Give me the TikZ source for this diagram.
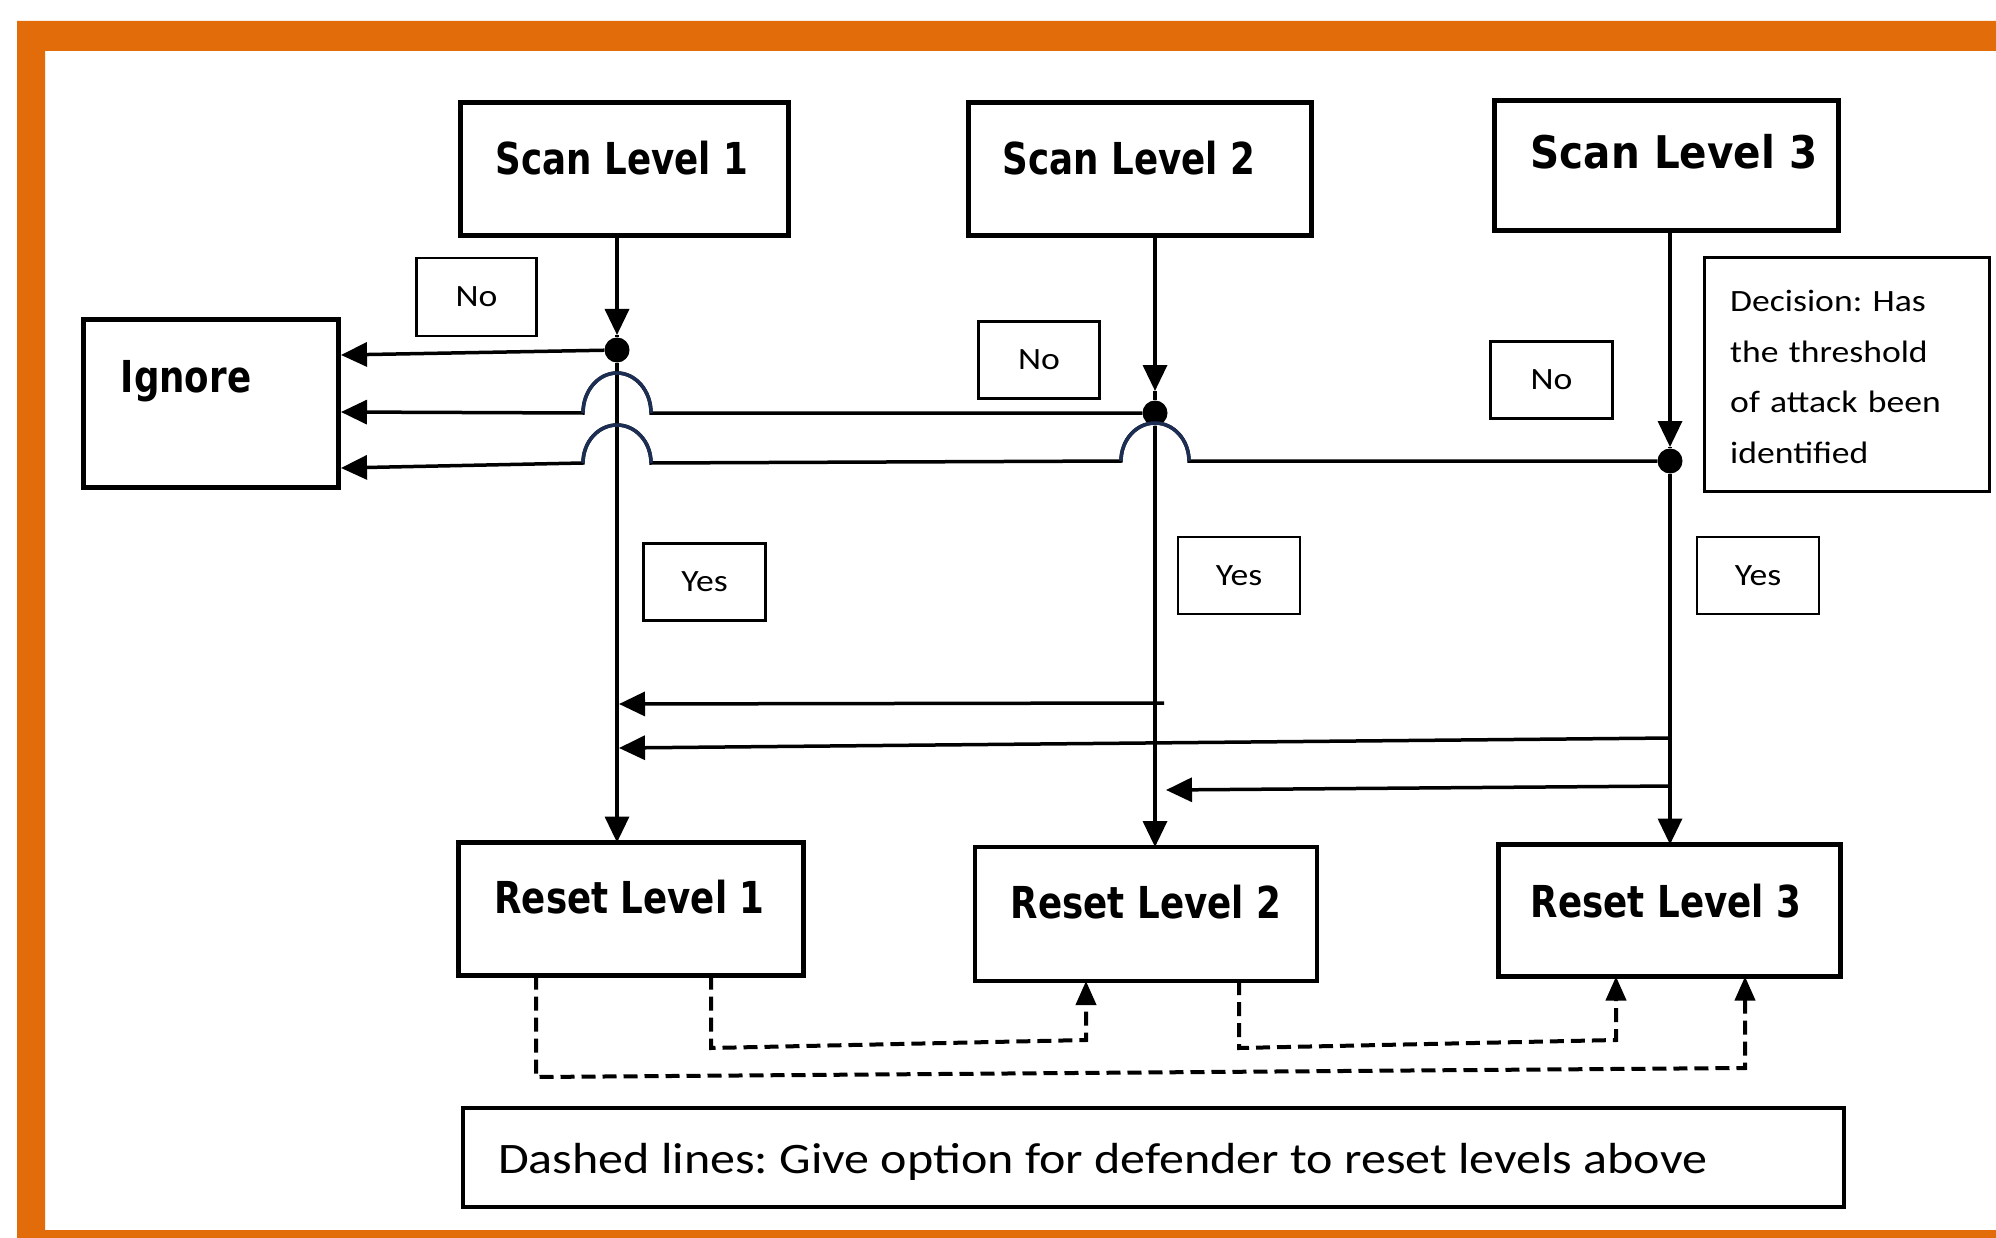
\documentclass[tikz,border=0pt]{standalone}
\usepackage{fontspec}
\setmainfont{Carlito}
\newfontfamily\titlefont[FakeStretch=0.81]{DejaVu Sans}
\newfontfamily\titlewidefont[FakeStretch=0.9]{DejaVu Sans}
\newfontfamily\labfont[FakeStretch=1.15]{Carlito}
\usetikzlibrary{arrows.meta,calc}
\definecolor{frameorange}{HTML}{E36C0A}
\definecolor{jumpblue}{HTML}{1C2E54}
\frenchspacing
\begin{document}
\begin{tikzpicture}[x=1pt,y=-1pt,
  box/.style={draw, line width=4.5pt, inner sep=0pt, outer sep=0pt},
  lab/.style={draw, line width=2.5pt, inner sep=0pt, outer sep=0pt, font=\labfont\fontsize{31}{36}\selectfont, text depth=-3pt},
  ttl/.style={font=\titlefont\bfseries\fontsize{44}{50}\selectfont, inner sep=0pt, anchor=base},
  conn/.style={line width=3.5pt},
  arr/.style={conn, -{Triangle[length=26pt,width=24pt]}},
  dot/.style={circle, fill, inner sep=0pt, minimum size=25pt},
  dsh/.style={line width=4pt, dash pattern=on 14pt off 7pt, -{Triangle[length=24pt,width=20pt]}},
]
\useasboundingbox (0,0) rectangle (1996,1238);
\fill[white] (0,0) rectangle (1996,1238);
\fill[frameorange, even odd rule] (17,21) rectangle (1996,1238) (45,51) rectangle (1996,1230);

% main boxes
\node[box, minimum width=328pt, minimum height=133pt] (scan1) at (624.5,169) {};
\node[box, minimum width=343pt, minimum height=133pt] (scan2) at (1140,169) {};
\node[box, minimum width=344pt, minimum height=130pt] (scan3) at (1666.5,165.5) {};
\node[box, minimum width=255pt, minimum height=168pt] (ignore) at (211,403.5) {};
\node[box, minimum width=345pt, minimum height=133pt] (reset1) at (631,909) {};
\node[box, minimum width=342pt, minimum height=134pt] (reset2) at (1146,914) {};
\node[box, minimum width=342pt, minimum height=132pt] (reset3) at (1669.5,910.5) {};

% titles
\node[ttl] (t1) at (622,175) {Scan Level 1};
\node[ttl] (t2) at (1129,175) {Scan Level 2};
\node[ttl, font=\titlewidefont\bfseries\fontsize{45}{50}\selectfont] (t3) at (1674,169) {Scan Level 3};
\node[ttl] (ti) at (186,392) {Ignore};
\node[ttl] (r1) at (629.5,913) {Reset Level 1};
\node[ttl] (r2) at (1146,918) {Reset Level 2};
\node[ttl] (r3) at (1666,917) {Reset Level 3};

% decision box
\node[draw, line width=3pt, minimum width=285pt, minimum height=233pt, inner sep=0pt] (dec) at (1846.5,374.5) {};
\node[anchor=base west, inner sep=0pt, text width=250pt, align=left,
      font=\labfont\fontsize{31}{50.5}\selectfont] (dectext) at (1730,312)
      {Decision: Has\\the threshold\\of attack been\\identified};

% labels
\node[lab, minimum width=120pt, minimum height=78pt] (no1) at (476.5,297) {No};
\node[lab, minimum width=121pt, minimum height=77pt] (no2) at (1039,360) {No};
\node[lab, minimum width=122pt, minimum height=77pt] (no3) at (1551.5,380) {No};
\node[lab, minimum width=122pt, minimum height=77pt] (yes1) at (704.5,582) {Yes};
\node[lab, minimum width=122pt, minimum height=77pt] (yes2) at (1239,575.5) {Yes};
\node[lab, minimum width=122pt, minimum height=77pt] (yes3) at (1758,575.5) {Yes};

% legend
\node[draw, line width=3.5pt, minimum width=1381pt, minimum height=99pt, inner sep=0pt] (legend) at (1153.5,1157.5) {};
\node[anchor=base west, inner sep=0pt, font=\labfont\fontsize{43.5}{50}\selectfont] (legtext) at (498,1173)
  {Dashed lines: Give option for defender to reset levels above};

% junction dots
\node[dot] (dot1) at (617,350) {};
\node[dot] (dot2) at (1155,413) {};
\node[dot] (dot3) at (1670,461) {};

% vertical flow
\draw[arr] (scan1.south -| dot1) -- ($(dot1)+(0,-15)$);
\draw[conn] ($(dot1)+(0,-15)$) -- (dot1);
\draw[arr] (dot1) -- (reset1.north -| dot1);
\draw[arr] (scan2.south -| dot2) -- ($(dot2)+(0,-22)$);
\draw[conn] ($(dot2)+(0,-22)$) -- (dot2);
\draw[arr] (dot2) -- (reset2.north -| dot2);
\draw[arr] (scan3.south -| dot3) -- ($(dot3)+(0,-14)$);
\draw[conn] ($(dot3)+(0,-14)$) -- (dot3);
\draw[arr] (dot3) -- (reset3.north -| dot3);

% "No" branches to Ignore
\coordinate (ig1) at (341,355);
\coordinate (ig2) at (341,412);
\coordinate (ig3) at (341,468);
\draw[arr] (dot1) -- (ig1);
\draw[arr] (dot2) -- (651,413) arc[start angle=0, end angle=-180, x radius=34, y radius=40] -- (ig2);
\draw[arr] (dot3) -- (1189,461) arc[start angle=0, end angle=-180, x radius=34, y radius=38] -- (651,463)
  arc[start angle=0, end angle=-180, x radius=34, y radius=38] -- (ig3);
\draw[conn, jumpblue] (651,413) arc[start angle=0, end angle=-180, x radius=34, y radius=40];
\draw[conn, jumpblue] (1189,461) arc[start angle=0, end angle=-180, x radius=34, y radius=38];
\draw[conn, jumpblue] (651,463) arc[start angle=0, end angle=-180, x radius=34, y radius=38];

% "Yes" feedback arrows
\coordinate (fa1) at (1164,703);
\coordinate (fa2) at (619,704);
\coordinate (fb1) at (1671,738);
\coordinate (fb2) at (619,748);
\coordinate (fc1) at (1671,786);
\coordinate (fc2) at (1166,790);
\draw[arr] (fa1) -- (fa2);
\draw[arr] (fb1) -- (fb2);
\draw[arr] (fc1) -- (fc2);

% dashed reset options
\draw[dsh] ($(reset1.south west)+(77.5,0)$) -- (536,1077) -- (1745,1068) -- ($(reset3.south west)+(246.5,0)$);
\draw[dsh] ($(reset1.south west)+(252.5,0)$) -- (711,1048) -- (1086,1040) -- ($(reset2.south west)+(111,0)$);
\draw[dsh] ($(reset2.south west)+(264,0)$) -- (1239,1048) -- (1616,1040) -- ($(reset3.south west)+(117.5,0)$);
\end{tikzpicture}
\end{document}
